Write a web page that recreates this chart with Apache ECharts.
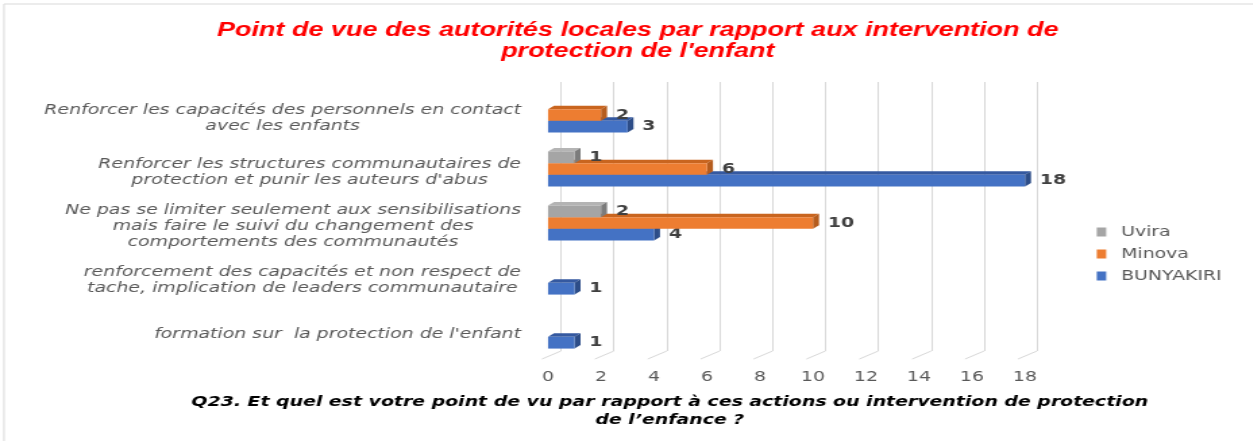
<!DOCTYPE html>
<html>
<head>
<meta charset="utf-8">
<script src="https://cdn.jsdelivr.net/npm/echarts@6/dist/echarts.min.js"></script>
<style>
  html, body { margin: 0; padding: 0; background: #fff; overflow: hidden; }
  /* the source picture is a horizontally stretched screenshot, so we stretch too */
  #chart { width: 928px; height: 441px; transform: scaleX(1.35); transform-origin: 0 0; }
</style>
</head>
<body>
<div id="chart"></div>
<script>
const S = 1.35;

const categories = [
	"Renforcer les capacités des personnels en contact\navec les enfants",
	"Renforcer les structures communautaires de\nprotection et punir les auteurs d'abus",
	"Ne pas se limiter seulement aux sensibilisations\nmais faire le suivi du changement des\ncomportements des communautés",
	"renforcement des capacités et non respect de\ntache, implication de leaders communautaire",
	"formation sur  la protection de l'enfant"
];
const seriesNames = ["Uvira", "Minova", "BUNYAKIRI"];
const uvira = [null, 1, 2, null, null];
const minova = [2, 6, 10, null, null];
const bunyakiri = [3, 18, 4, 1, 1];
const xTicks = [0, 2, 4, 6, 8, 10, 12, 14, 16, 18];

const palette = [
	{ front: "#a5a5a5", top: "#b4b4b4", side: "#7c7c7c" },
	{ front: "#ed7d31", top: "#c9651f", side: "#b55c1d" },
	{ front: "#4472c4", top: "#3559a0", side: "#2d4d88" }
];

const DX = 6 / S;
const DY = 3.5;

function toData(values) {
	return values
		.map((v, i) => v == null ? null : [v, i])
		.filter(d => d);
}

function bar3d(slot) {
	const c = palette[slot];
	return (params, api) => {
		const val = api.value(0);
		const cat = api.value(1);
		const start = api.coord([0, cat]);
		const end = api.coord([val, cat]);
		const band = api.size([0, 1])[1];
		const bw = band * 0.217;
		const y0 = start[1] - 1.5 * bw + slot * bw;
		const x0 = start[0];
		const x1 = end[0];
		return {
			type: "group",
			children: [
				{
					type: "polygon",
					shape: { points: [[x0, y0], [x1, y0], [x1 + DX, y0 - DY], [x0 + DX, y0 - DY]] },
					style: { fill: c.top }
				},
				{
					type: "polygon",
					shape: { points: [[x1, y0], [x1 + DX, y0 - DY], [x1 + DX, y0 + bw - DY], [x1, y0 + bw]] },
					style: { fill: c.side }
				},
				{
					type: "rect",
					shape: { x: x0, y: y0, width: x1 - x0, height: bw },
					style: { fill: c.front }
				},
				{
					type: "text",
					style: {
						text: String(val),
						x: x1 + 11,
						y: y0 + bw / 2,
						verticalAlign: "middle",
						fill: "#404040",
						font: 'bold 14px "DejaVu Sans"'
					}
				}
			]
		};
	};
}

function floorTick(params, api) {
	const p = api.coord([api.value(0), 0]);
	return {
		type: "line",
		shape: { x1: p[0], y1: p[1], x2: p[0] - 19 / S, y2: p[1] + 8 },
		style: { stroke: "#d9d9d9", lineWidth: 1 }
	};
}

const chart = echarts.init(document.getElementById("chart"));

const labelFont = {
	fontFamily: "DejaVu Sans",
	fontStyle: "italic",
	fontSize: 14,
	color: "#595959",
	lineHeight: 16
};

const option = {
	backgroundColor: "#fff",
	animation: false,
	title: [{
		text: "Point de vue des autorités locales par rapport aux intervention de\nprotection de l'enfant",
		left: 631 / S,
		top: 15,
		textAlign: "center",
		textStyle: {
			color: "#ff0000",
			fontFamily: "Liberation Sans",
			fontStyle: "italic",
			fontWeight: "bold",
			fontSize: 20,
			lineHeight: 21
		}
	}, {
		text: "Q23. Et quel est votre point de vu par rapport à ces actions ou intervention de protection\nde l’enfance ?",
		left: 663 / S,
		top: 388,
		textAlign: "center",
		textStyle: {
			color: "#000",
			fontFamily: "DejaVu Sans",
			fontStyle: "italic",
			fontWeight: "bold",
			fontSize: 14,
			lineHeight: 18
		}
	}],
	legend: {
		orient: "vertical",
		left: 1090 / S,
		top: 220,
		itemWidth: 7,
		itemHeight: 9,
		itemGap: 8,
		icon: "rect",
		data: seriesNames,
		textStyle: {
			fontFamily: "DejaVu Sans",
			fontSize: 14,
			color: "#595959",
			padding: [0, 0, 0, 6]
		}
	},
	graphic: [{
		type: "rect",
		shape: { x: 4 / S, y: 4, width: 2000, height: 1000 },
		style: { fill: "none", stroke: "#d9d9d9", lineWidth: 1 },
		silent: true
	}],
	grid: [{
		left: 548 / S,
		right: 928 - 1025 / S,
		top: 88,
		bottom: 83
	}, {
		left: 561 / S,
		right: 928 - 1037 / S,
		top: 82,
		bottom: 90
	}],
	xAxis: [{
		type: "value",
		gridIndex: 0,
		min: 0,
		max: 18,
		interval: 2,
		axisLine: { show: false },
		axisTick: { show: false },
		splitLine: { show: false },
		axisLabel: {
			margin: 12,
			fontFamily: "DejaVu Sans",
			fontSize: 14,
			color: "#595959"
		}
	}, {
		type: "value",
		gridIndex: 1,
		min: 0,
		max: 18,
		interval: 2,
		axisLine: { show: false },
		axisTick: { show: false },
		axisLabel: { show: false },
		splitLine: { show: true, lineStyle: { color: "#d9d9d9", width: 1 } }
	}],
	yAxis: [{
		type: "category",
		gridIndex: 0,
		inverse: true,
		data: categories,
		axisLine: { show: false },
		axisTick: { show: false },
		axisLabel: Object.assign({
			margin: 20,
			padding: [6, 0, 0, 0],
			formatter: v => v.split("\n").map(l => "{c|" + l + "}").join("\n"),
			rich: { c: Object.assign({ align: "center" }, labelFont) }
		}, labelFont)
	}, {
		type: "value",
		gridIndex: 1,
		min: 0,
		max: 1,
		show: false
	}],
	series: [{
		name: "floor",
		type: "custom",
		xAxisIndex: 1,
		yAxisIndex: 1,
		silent: true,
		z: 1,
		renderItem: floorTick,
		data: xTicks.map(t => [t, 0])
	}, {
		name: "Uvira",
		type: "custom",
		z: 4,
		itemStyle: { color: palette[0].front },
		renderItem: bar3d(0),
		encode: { x: 0, y: 1 },
		data: toData(uvira)
	}, {
		name: "Minova",
		type: "custom",
		z: 3,
		itemStyle: { color: palette[1].front },
		renderItem: bar3d(1),
		encode: { x: 0, y: 1 },
		data: toData(minova)
	}, {
		name: "BUNYAKIRI",
		type: "custom",
		z: 2,
		itemStyle: { color: palette[2].front },
		renderItem: bar3d(2),
		encode: { x: 0, y: 1 },
		data: toData(bunyakiri)
	}]
};

chart.setOption(option);
window.onresize = chart.resize;
</script>
</body>
</html>
